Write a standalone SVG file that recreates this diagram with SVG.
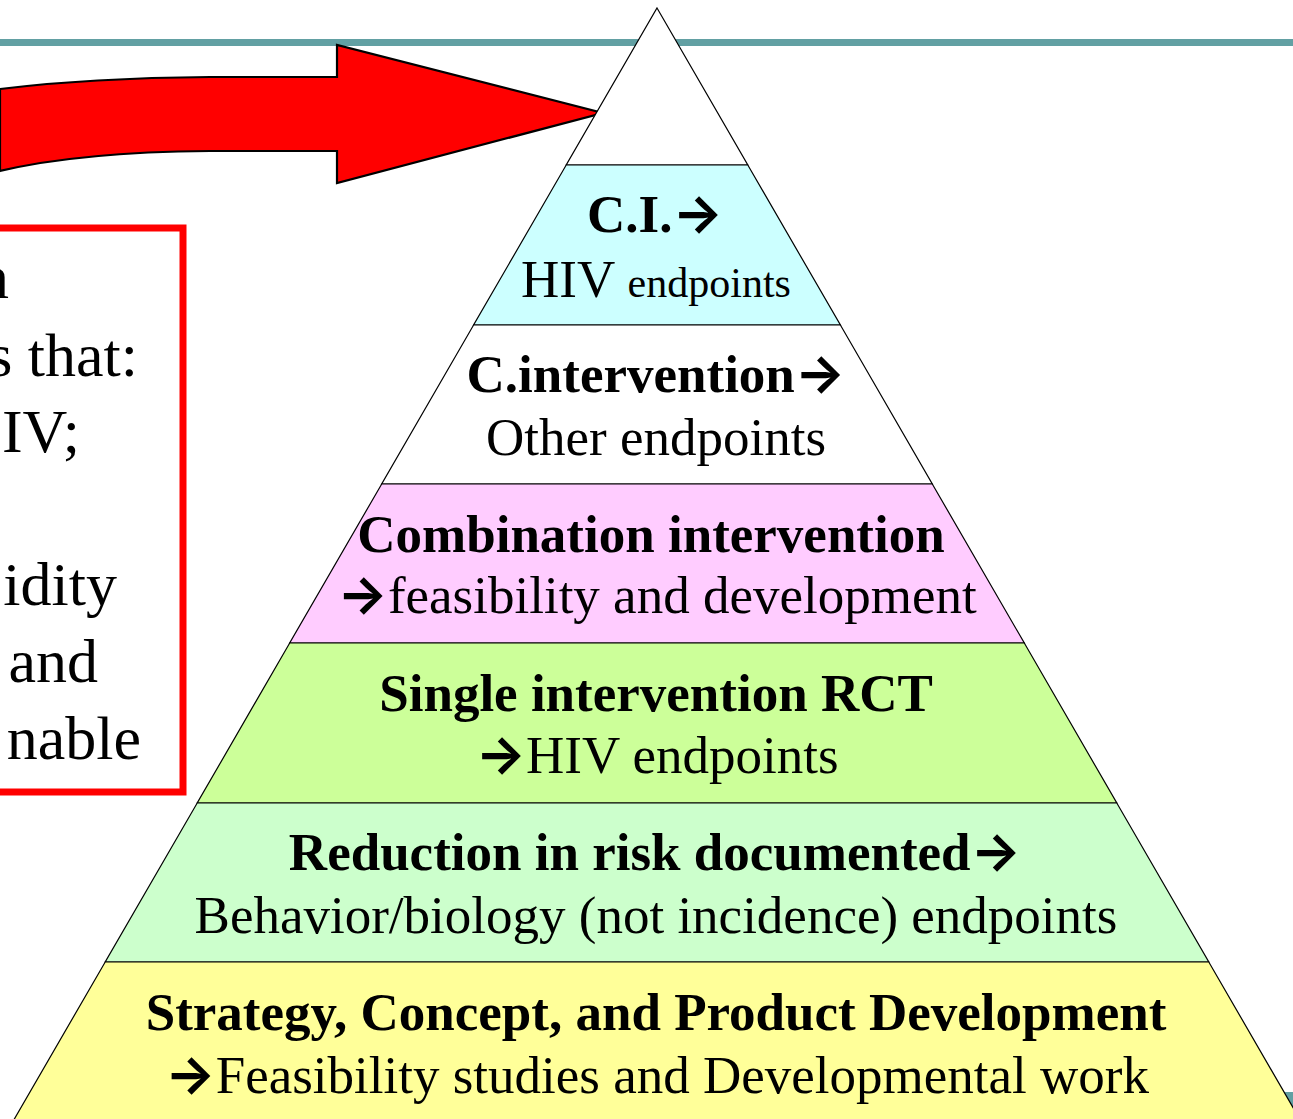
<svg xmlns="http://www.w3.org/2000/svg" width="1293" height="1119" viewBox="0 0 1293 1119">
<style>
.lay{stroke:#000;stroke-width:1.2}
.t{font-family:"Liberation Serif","Times New Roman",serif;font-size:53px;fill:#000;text-anchor:middle}
.b{font-weight:bold}
.ar{font-family:Inter,"DejaVu Sans",sans-serif;font-weight:bold}
.bx{font-family:"Liberation Serif","Times New Roman",serif;font-size:62px;fill:#000;text-anchor:end}
</style>
<rect width="1293" height="1119" fill="#fff"/>
<g id="bars">
<rect x="0" y="39" width="1293" height="7" fill="#62a0a3"/>
<rect x="1280" y="1092" width="13" height="27" fill="#62a0a3"/>
</g>
<g id="connectors">
<path d="M0,89 Q90,78 210,77 L337,77 L337,45 L603,113 L337,183 L337,151 L210,151 Q80,152 0,171 Z" fill="#ff0000" stroke="#000" stroke-width="2.2" stroke-linejoin="miter"/>
</g>
<g id="textbox">
<rect x="-10" y="228" width="193" height="564" fill="#fff" stroke="#ff0000" stroke-width="7"/>
<text class="bx" x="9" y="298">n</text>
<text class="bx" x="138" y="376">s that:</text>
<text class="bx" x="80" y="452">IV;</text>
<text class="bx" x="117" y="605">idity</text>
<text class="bx" x="98" y="682">and</text>
<text class="bx" x="141" y="759">nable</text>
</g>
<g id="apex">
<polygon class="lay" points="657,8 747.8,165 566.2,165" fill="#fff"/>
</g>
<g id="layer-ci">
<polygon class="lay" points="566.2,165 747.8,165 840.4,325 473.6,325" fill="#ccffff"/>
<text class="t b" x="655" y="232">C.I.<tspan class="ar">→</tspan></text>
<text class="t" x="656" y="297">HIV <tspan font-size="42">endpoints</tspan></text>
</g>
<g id="layer-cintervention">
<polygon class="lay" points="473.6,325 840.4,325 932.3,484 381.7,484" fill="#fff"/>
<text class="t b" x="656" y="392">C.intervention<tspan class="ar">→</tspan></text>
<text class="t" x="656" y="455">Other endpoints</text>
</g>
<g id="layer-combination">
<polygon class="lay" points="381.7,484 932.3,484 1024.3,643 289.7,643" fill="#ffccff"/>
<text class="t b" x="651" y="552">Combination intervention</text>
<text class="t" x="657" y="613"><tspan class="ar">→</tspan>feasibility and development</text>
</g>
<g id="layer-single">
<polygon class="lay" points="289.7,643 1024.3,643 1116.8,803 197.2,803" fill="#ccff99"/>
<text class="t b" x="656" y="711">Single intervention RCT</text>
<text class="t" x="657" y="773"><tspan class="ar">→</tspan>HIV endpoints</text>
</g>
<g id="layer-reduction">
<polygon class="lay" points="197.2,803 1116.8,803 1208.8,962 105.2,962" fill="#ccffcc"/>
<text class="t b" x="655" y="870">Reduction in risk documented<tspan class="ar">→</tspan></text>
<text class="t" x="656" y="933">Behavior/biology (not incidence) endpoints</text>
</g>
<g id="layer-strategy">
<polygon class="lay" points="105.2,962 1208.8,962 1300.8,1121 13.2,1121" fill="#ffff99"/>
<text class="t b" x="656" y="1030">Strategy, Concept, and Product Development</text>
<text class="t" x="657" y="1093"><tspan class="ar">→</tspan>Feasibility studies and Developmental work</text>
</g>
</svg>
